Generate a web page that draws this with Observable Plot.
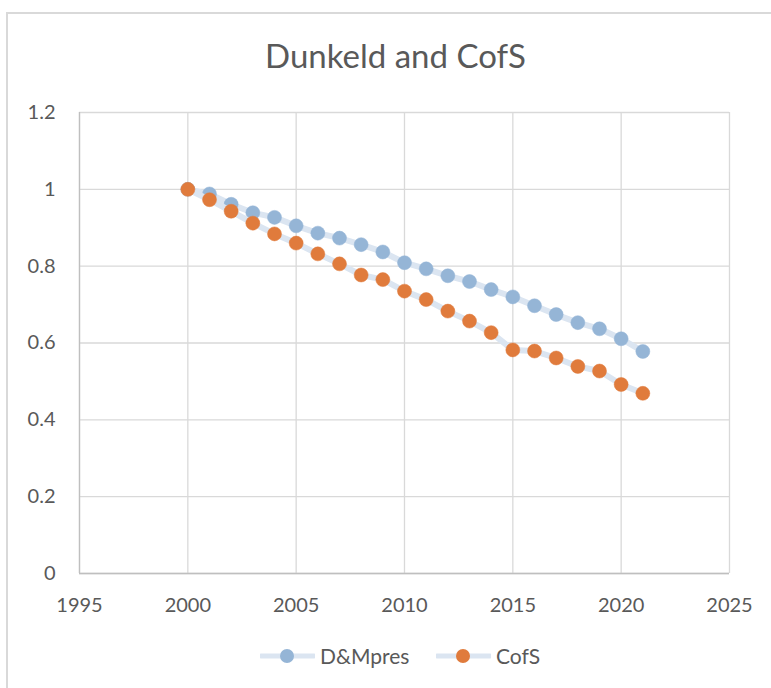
<!DOCTYPE html>
<html>
<head>
<meta charset="utf-8">
<script src="https://cdn.jsdelivr.net/npm/d3@7"></script>
<script src="https://cdn.jsdelivr.net/npm/@observablehq/plot@0.6"></script>
<style>
  html, body { margin: 0; padding: 0; background: #fff; }
  #wrap { position: relative; width: 771px; height: 688px; overflow: hidden; font-family: Lato, "Noto Sans", sans-serif; color: #595959; }
  #border { position: absolute; left: 6px; top: 12px; width: 800px; height: 700px; border-left: 2px solid #d9d9d9; border-top: 2px solid #d9d9d9; box-sizing: border-box; }
  #title { position: absolute; left: 0; width: 791px; top: 39px; text-align: center; font-size: 33px; line-height: 1; white-space: nowrap; }
  #chart { position: absolute; left: 0; top: 90px; }
  .leg { position: absolute; top: 646px; height: 20px; display: flex; align-items: center; font-size: 21px; line-height: 20px; white-space: nowrap; }
  .leg svg { display: block; margin-right: 5px; }
</style>
</head>
<body>
<div id="wrap">
  <div id="border"></div>
  <div id="title">Dunkeld and CofS</div>
  <div id="chart"></div>
  <div id="legend"></div>
</div>
<script>
const years = [2000, 2001, 2002, 2003, 2004, 2005, 2006, 2007, 2008, 2009, 2010, 2011, 2012, 2013, 2014, 2015, 2016, 2017, 2018, 2019, 2020, 2021];
const dmpres = [1.000, 0.988, 0.961, 0.939, 0.927, 0.905, 0.886, 0.873, 0.856, 0.837, 0.809, 0.793, 0.775, 0.760, 0.739, 0.720, 0.697, 0.674, 0.653, 0.637, 0.611, 0.578];
const cofs = [1.000, 0.973, 0.943, 0.912, 0.884, 0.860, 0.832, 0.806, 0.777, 0.765, 0.735, 0.713, 0.683, 0.657, 0.627, 0.582, 0.579, 0.561, 0.539, 0.527, 0.492, 0.469];
const seriesNames = ["D&Mpres", "CofS"];
const seriesColors = ["#95b5d6", "#e07b3c"];
const lineColor = "#dbe5f1";
const xTicks = [1995, 2000, 2005, 2010, 2015, 2020, 2025];
const yTicks = [0, 0.2, 0.4, 0.6, 0.8, 1, 1.2];

const rowsA = years.map((yr, i) => ({year: yr, value: dmpres[i]}));
const rowsB = years.map((yr, i) => ({year: yr, value: cofs[i]}));

const plot = Plot.plot({
  width: 771,
  height: 540,
  marginLeft: 79,
  marginRight: 42,
  marginTop: 22,
  marginBottom: 57,
  style: {fontFamily: "Lato, 'Noto Sans', sans-serif", fontSize: "20px", color: "#595959", background: "transparent", overflow: "visible"},
  x: {domain: [1995, 2025], label: null},
  y: {domain: [0, 1.2], label: null},
  marks: [
    Plot.ruleY(yTicks, {stroke: "#d9d9d9", strokeWidth: 1.3}),
    Plot.ruleX(xTicks, {stroke: "#d9d9d9", strokeWidth: 1.3}),
    Plot.ruleX([1995], {stroke: "#bfbfbf", strokeWidth: 1.3}),
    Plot.ruleY([0], {stroke: "#bfbfbf", strokeWidth: 1.3}),
    Plot.axisX({ticks: xTicks, tickSize: 0, tickPadding: 24, tickFormat: d => String(d), fontSize: 20, label: null}),
    Plot.axisY({ticks: yTicks, tickSize: 0, tickPadding: 24, tickFormat: d => String(Math.round(d * 10) / 10), fontSize: 20, label: null}),
    Plot.line(rowsA, {x: "year", y: "value", stroke: lineColor, strokeWidth: 6, strokeLinecap: "round", strokeLinejoin: "round"}),
    Plot.dot(rowsA, {x: "year", y: "value", r: 7, fill: seriesColors[0], stroke: seriesColors[0], strokeWidth: 0.5}),
    Plot.line(rowsB, {x: "year", y: "value", stroke: lineColor, strokeWidth: 6, strokeLinecap: "round", strokeLinejoin: "round"}),
    Plot.dot(rowsB, {x: "year", y: "value", r: 7, fill: seriesColors[1], stroke: seriesColors[1], strokeWidth: 0.5})
  ]
});
document.getElementById("chart").appendChild(plot);

// legend
const legendLefts = [260, 436];
const legend = document.getElementById("legend");
seriesNames.forEach((name, i) => {
  const item = document.createElement("div");
  item.className = "leg";
  item.style.left = legendLefts[i] + "px";
  item.innerHTML = `<svg width="55" height="20"><line x1="1" y1="10" x2="54" y2="10" stroke="${lineColor}" stroke-width="5" stroke-linecap="round"/><circle cx="27" cy="10" r="7" fill="${seriesColors[i]}"/></svg>`;
  const span = document.createElement("span");
  span.textContent = name;
  item.appendChild(span);
  legend.appendChild(item);
});
</script>
</body>
</html>
